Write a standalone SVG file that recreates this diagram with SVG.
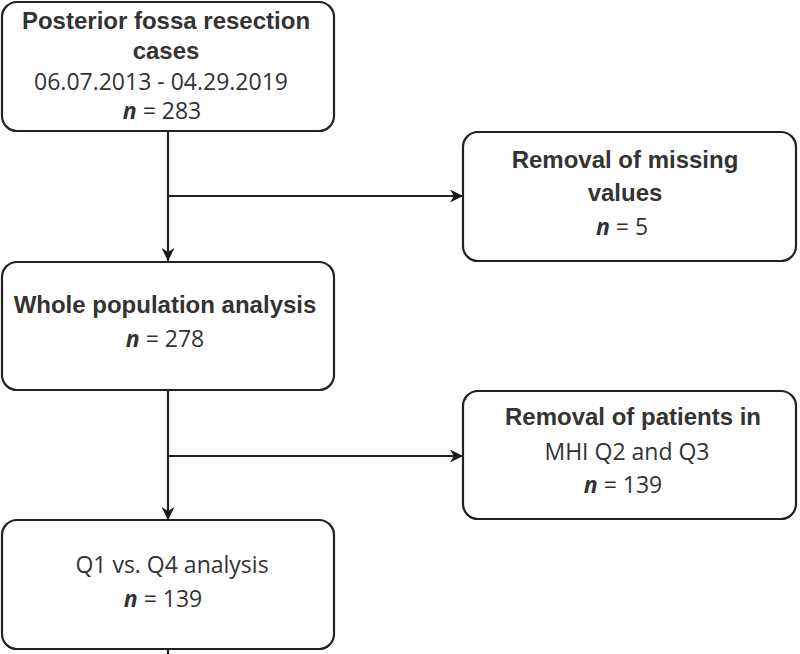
<svg xmlns="http://www.w3.org/2000/svg" width="800" height="654" viewBox="0 0 800 654">
<defs>
<marker id="arr" viewBox="0 0 10 10" refX="10" refY="5" markerWidth="13" markerHeight="13" markerUnits="userSpaceOnUse" orient="auto">
<path d="M0,0 L10,5 L0,10 L3,5 Z" fill="#1a1a1a"/>
</marker>
<style>
.box{fill:#fff;stroke:#222;stroke-width:2.2}
.b{font-family:"Liberation Sans",Arial,sans-serif;font-weight:bold;font-size:24px;fill:#333;text-anchor:middle}
.r{font-family:"Open Sans","Liberation Sans",sans-serif;font-size:23px;fill:#333;text-anchor:middle}
.n{font-style:italic;font-weight:bold}
.c{fill:none;stroke:#222;stroke-width:2.2}
</style>
</defs>
<rect width="800" height="654" fill="#fff"/>
<g id="connectors">
<line class="c" x1="168" y1="131" x2="168" y2="261" marker-end="url(#arr)"/>
<line class="c" x1="168" y1="196" x2="463" y2="196" marker-end="url(#arr)"/>
<line class="c" x1="168" y1="390" x2="168" y2="520" marker-end="url(#arr)"/>
<line class="c" x1="168" y1="456" x2="463" y2="456" marker-end="url(#arr)"/>
<line class="c" x1="168" y1="649" x2="168" y2="654"/>
</g>
<g id="node-1">
<rect class="box" x="2" y="2" width="332" height="129" rx="15"/>
<text class="b" x="166" y="29">Posterior fossa resection</text>
<text class="b" x="166" y="59">cases</text>
<text class="r" x="161" y="90">06.07.2013 - 04.29.2019</text>
<text class="r" x="162" y="119"><tspan class="n">n</tspan> = 283</text>
</g>
<g id="node-2">
<rect class="box" x="463" y="132" width="333" height="129" rx="15"/>
<text class="b" x="625" y="168">Removal of missing</text>
<text class="b" x="625" y="201">values</text>
<text class="r" x="622" y="235"><tspan class="n">n</tspan> = 5</text>
</g>
<g id="node-3">
<rect class="box" x="2" y="262" width="332" height="128" rx="15"/>
<text class="b" x="165" y="313">Whole population analysis</text>
<text class="r" x="165" y="347"><tspan class="n">n</tspan> = 278</text>
</g>
<g id="node-4">
<rect class="box" x="463" y="391" width="333" height="128" rx="15"/>
<text class="b" x="633" y="425">Removal of patients in</text>
<text class="r" x="627" y="460">MHI Q2 and Q3</text>
<text class="r" x="623" y="493"><tspan class="n">n</tspan> = 139</text>
</g>
<g id="node-5">
<rect class="box" x="2" y="520" width="332" height="129" rx="15"/>
<text class="r" x="172" y="573">Q1 vs. Q4 analysis</text>
<text class="r" x="163" y="607"><tspan class="n">n</tspan> = 139</text>
</g>
</svg>
